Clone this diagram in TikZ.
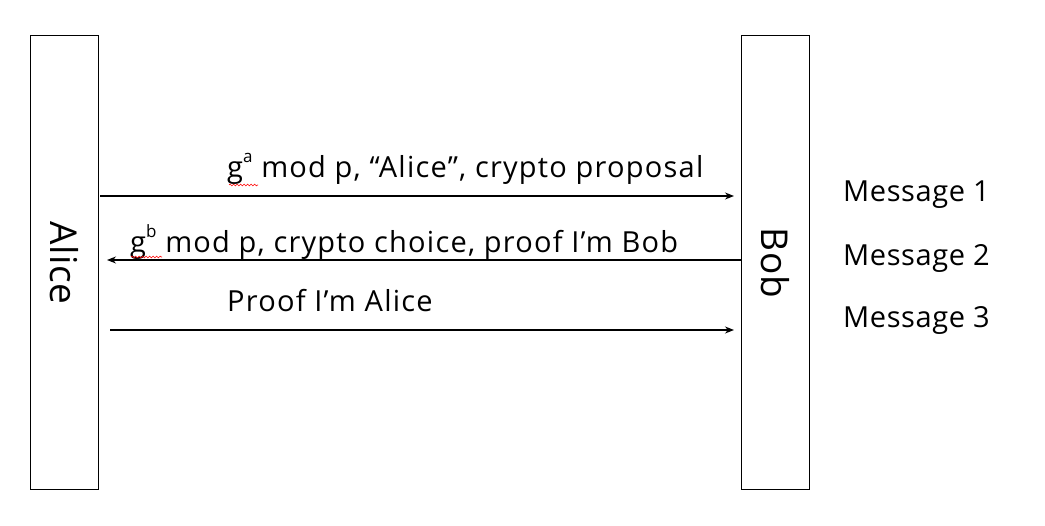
\documentclass[tikz,border=0pt]{standalone}
\usepackage{fontspec}
\setmainfont[LetterSpace=2]{Open Sans}
\newfontfamily\lblfont[LetterSpace=4.2]{Open Sans}
\usetikzlibrary{arrows.meta,decorations.pathmorphing}
\tikzset{
  actor/.style={draw, line width=1pt, minimum width=68pt, minimum height=454pt, inner sep=0pt},
  actorname/.style={rotate=-90, font=\fontsize{37}{40}\selectfont},
  msg/.style={line width=1.2pt, -{Stealth[length=9pt,width=7pt]}},
  lbl/.style={anchor=west, inner sep=0pt, font=\fontsize{29}{33}\selectfont},
  arrlbl/.style={lbl, font=\lblfont\fontsize{29}{33}\selectfont},
  squig/.style={red, line width=0.6pt, decorate, decoration={snake, amplitude=0.9pt, segment length=3.5pt}}
}
\begin{document}
\begin{tikzpicture}[x=1pt,y=-1pt]
\useasboundingbox (0,0) rectangle (1045,526);
\node[actor] (alice) at (64,263) {};
\node[actor] (bob) at (775,263) {};
\node[actorname] (aname) at (alice.center) {Alice};
\node[actorname] (bname) at (bob.center) {Bob};
\coordinate (a1) at (100,196);
\coordinate (b1) at (734,196);
\coordinate (b2) at (741,260);
\coordinate (a2) at (107,260);
\coordinate (a3) at (110,330);
\coordinate (b3) at (734,330);
\draw[msg] (a1) -- (b1);
\draw[msg] (b2) -- (a2);
\draw[msg] (a3) -- (b3);
\node[arrlbl] (l1) at (227,169) {g\raisebox{0.5em}{\fontsize{17}{19}\selectfont a} mod p, “Alice”, crypto proposal};
\node[arrlbl] (l2) at (130,242) {g\raisebox{0.5em}{\fontsize{17}{19}\selectfont b} mod p, crypto choice, proof I’m Bob};
\node[arrlbl] (l3) at (227,301) {Proof I’m Alice};
\draw[squig] (229,185) -- (258,185);
\draw[squig] (131,257) -- (162,257);
\node[lbl] (m1) at (843,195) {Message 1};
\node[lbl] (m2) at (843,258) {Message 2};
\node[lbl] (m3) at (843,320) {Message 3};
\end{tikzpicture}
\end{document}
